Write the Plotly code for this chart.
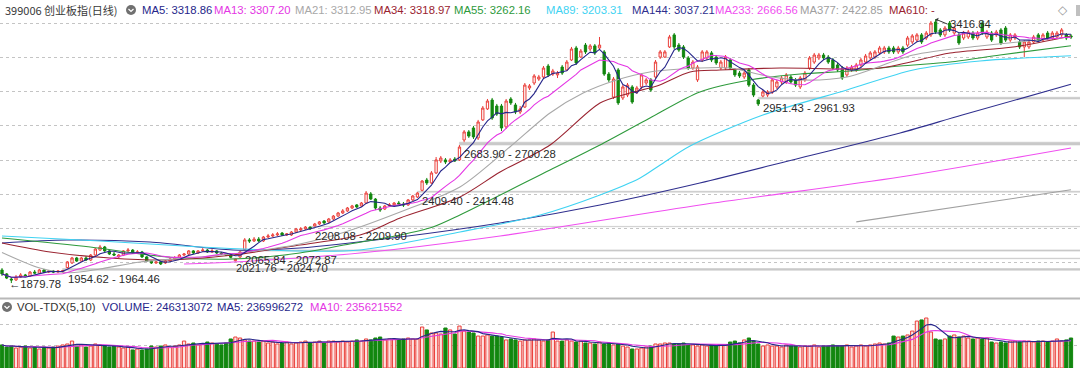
import plotly.graph_objects as go
import pandas as pd

W, H = 1080, 368

# ---------------- data ----------------
OPEN = [1956,1933,1903,1898,1915,1927,1921,1944,1938,1956,
        1944,1950,1944,1946,1970,1997,2026,2008,2026,2014,
        2043,2072,2090,2067,2049,2032,2043,2067,2072,2055,
        2061,2032,2008,1997,2003,1997,2008,2020,2026,2043,
        2049,2067,2055,2067,2072,2061,2067,2055,2049,2043,
        2010,2032,2075,2131,2125,2136,2125,2148,2154,2160,
        2171,2160,2160,2177,2189,2195,2206,2212,2224,2241,
        2236,2253,2270,2288,2300,2317,2335,2329,2346,2399,
        2369,2317,2311,2329,2335,2346,2340,2335,2364,2381,
        2420,2480,2463,2521,2591,2597,2585,2602,2597,2713,
        2760,2783,2725,2830,2894,2946,2911,2911,2789,2952,
        2917,2876,2905,3016,3045,3068,3080,3144,3097,3092,
        3138,3121,3179,3249,3196,3266,3243,3261,3249,3226,
        3097,2963,3121,2958,2975,3022,2993,3022,3045,3063,
        3080,3196,3196,3255,3325,3266,3255,3191,3132,3063,
        3179,3191,3220,3196,3132,3132,3179,3121,3103,3080,
        3121,3033,2946,2969,2975,2993,3022,3051,3051,3080,
        3063,3022,3063,3132,3167,3191,3208,3196,3179,3150,
        3132,3092,3121,3121,3150,3167,3191,3196,3220,3226,
        3249,3249,3226,3249,3266,3284,3295,3325,3307,3325,
        3400,3354,3325,3394,3336,3325,3307,3313,3336,3307,
        3394,3313,3336,3325,3354,3365,3295,3307,3284,3255,
        3255,3284,3325,3295,3336,3307,3313,3325,3325,3319]

CLOSE = [1933,1909,1898,1915,1927,1921,1944,1938,1956,1944,
         1950,1944,1950,1952,2003,2026,2008,2026,2014,2043,
         2078,2090,2067,2049,2043,2043,2067,2072,2055,2061,
         2032,2008,1997,2003,1991,2008,2020,2026,2043,2049,
         2067,2055,2067,2072,2061,2067,2055,2049,2043,2030,
         2019,2061,2131,2125,2136,2125,2148,2154,2160,2166,
         2160,2166,2177,2195,2195,2206,2195,2224,2236,2230,
         2253,2270,2288,2300,2317,2329,2323,2346,2404,2369,
         2317,2305,2329,2335,2346,2340,2335,2364,2387,2404,
         2474,2463,2521,2597,2608,2585,2597,2591,2672,2760,
         2736,2731,2818,2899,2940,2841,2864,2783,2940,2929,
         2876,2894,3033,3028,3086,3080,3132,3092,3115,3103,
         3103,3167,3243,3162,3231,3226,3261,3220,3266,3097,
         3063,3068,2929,3022,3033,2934,3016,3092,3063,3004,
         3167,3226,3226,3313,3255,3237,3196,3132,3167,3138,
         3226,3226,3179,3162,3167,3196,3132,3092,3086,3103,
         3033,2975,2923,2993,2993,3063,3051,3074,3092,3051,
         3033,3074,3103,3191,3208,3208,3191,3167,3132,3121,
         3074,3132,3138,3150,3179,3202,3220,3226,3249,3249,
         3226,3226,3249,3226,3307,3319,3325,3284,3336,3394,
         3342,3325,3365,3354,3365,3278,3336,3342,3307,3336,
         3336,3342,3295,3342,3278,3295,3325,3325,3255,3284,
         3284,3313,3295,3325,3307,3336,3336,3354,3307,3313]

HIGH = [1967,1938,1915,1927,1938,1933,1950,1956,1962,1962,
        1956,1956,1954,1954.6,2008,2032,2032,2032,2037,2049,
        2084,2102,2096,2072,2061,2049,2072,2084,2078,2072,
        2067,2037,2014,2014,2008,2014,2026,2037,2049,2055,
        2072,2072,2072,2084,2078,2078,2072,2061,2055,2049,
        2021.8,2065.8,2142,2142,2148,2148,2154,2166,2171,2177,
        2177,2171,2183,2201,2206,2212,2208.1,2230,2241,2247,
        2259,2276,2294,2311,2323,2335,2340,2352,2416,2410,
        2375,2329,2335,2346,2352,2358,2352,2369,2393,2409.4,
        2480,2492,2532,2614,2620,2608,2608,2614,2683.9,2771,
        2771,2795,2830,2911,2952,2958,2923,2923,2952,2963,
        2929,2911,3045,3039,3097,3092,3144,3156,3127,3115,
        3150,3179,3255,3261,3243,3278,3272,3272,3313,3237,
        3109,3080,3132,3033,3045,3033,3028,3103,3074,3074,
        3179,3237,3237,3325,3336,3278,3266,3202,3179,3150,
        3237,3237,3231,3208,3179,3208,3191,3132,3115,3115,
        3132,3045,2951.4,3004,3004,3074,3063,3086,3103,3092,
        3074,3086,3115,3202,3220,3220,3220,3208,3191,3162,
        3144,3144,3150,3162,3191,3214,3231,3237,3261,3261,
        3261,3261,3261,3261,3319,3330,3336,3336,3348,3406,
        3416.84,3365,3377,3406,3377,3336,3348,3354,3348,3348,
        3406,3354,3348,3354,3365,3377,3336,3336,3295,3295,
        3295,3325,3336,3336,3348,3348,3348,3365,3336,3330]

LOW = [1921,1903,1879.78,1892,1909,1915,1915,1933,1933,1938,
       1938,1938,1938,1940,1964.5,1991,2003,2003,2008,2008,
       2037,2067,2061,2043,2037,2026,2037,2061,2049,2049,
       2026,2003,1991,1991,1985,1991,2003,2014,2020,2037,
       2043,2049,2049,2061,2055,2055,2049,2043,2037,2024.7,
       2005,2026,2072.9,2113,2119,2119,2119,2142,2148,2154,
       2154,2154,2154,2171,2183,2189,2189,2209.9,2218,2224,
       2230,2247,2265,2282,2294,2311,2317,2323,2340,2364,
       2305,2294,2305,2323,2329,2335,2323,2329,2358,2375,
       2414.5,2451,2457,2515,2579,2573,2579,2585,2591,2700.3,
       2725,2719,2713,2824,2888,2830,2853,2765,2777,2917,
       2864,2864,2899,3004,3033,3057,3074,3080,3086,3074,
       3092,3115,3173,3150,3191,3214,3231,3208,3237,3086,
       3051,2952,2917,2946,2963,2923,2981,3010,3033,2993,
       3068,3185,3191,3249,3243,3226,3185,3121,3121,3051,
       3167,3179,3167,3150,3121,3121,3121,3080,3074,3068,
       3022,2963,2911,2961.9,2963,2981,3010,3039,3039,3039,
       3022,3010,3051,3121,3156,3179,3179,3156,3121,3109,
       3063,3080,3109,3109,3138,3156,3179,3185,3208,3214,
       3214,3214,3214,3214,3255,3272,3284,3272,3295,3313,
       3330,3313,3313,3342,3325,3266,3295,3301,3295,3295,
       3325,3301,3284,3313,3266,3284,3284,3295,3243,3196,
       3243,3272,3284,3284,3295,3295,3301,3313,3295,3301]

# volume, millions of shares
VOLUME = [189,172,180,164,172,180,164,172,156,172,
          164,172,180,189,197,221,180,189,172,180,
          197,189,180,172,180,172,164,172,148,156,
          148,156,180,172,180,189,172,180,189,221,
          197,205,189,197,213,205,197,189,205,238,
          254,246,230,221,221,213,221,205,213,197,
          205,213,197,205,213,221,205,213,221,205,
          221,221,213,221,213,221,230,221,238,230,
          246,254,230,238,238,230,238,246,238,238,
          336,312,287,287,279,328,312,279,344,303,
          295,287,262,262,271,262,262,254,230,238,
          230,221,230,230,238,230,221,230,295,221,
          221,230,221,213,221,205,205,197,213,197,
          205,189,197,180,172,156,156,164,172,180,
          197,197,205,205,197,197,205,189,189,180,
          189,180,189,180,189,189,213,221,205,230,
          246,221,197,180,189,180,180,172,189,180,
          180,172,180,180,189,172,180,180,189,180,
          180,189,172,180,189,180,189,197,205,197,
          205,262,254,262,271,303,385,394,410,295,
          238,230,238,262,271,254,262,246,238,246,
          238,246,213,205,213,205,221,221,213,221,
          221,213,221,221,213,221,238,221,230,246]

# long moving averages (bar index, value)
MA21_I = [0, 8.1, 14.6, 21, 29.6, 42.4, 51, 63.8, 73.5, 85.3, 98.1, 108.8, 117.4,
          124.5, 131.7, 138.8, 149.5, 156, 163.9, 171, 181, 195.2, 209.5, 229]
MA21_V = [2058, 1967.5, 1940, 1962, 2002.5, 2031.6, 2054.9, 2107.3, 2177.2, 2293.7,
          2439.3, 2672.2, 2870.3, 2986.7, 3062.5, 3109.1, 3132.4, 3132.4, 3085.8,
          3062.5, 3079.9, 3208.1, 3260.5, 3312.95]
MA34_I = [0, 10.3, 23.1, 35.3, 49.5, 63.8, 76.7, 85.3, 98.1, 106.7, 117.4, 128.1,
          134.5, 140.3, 147.4, 153.8, 166.7, 188.1, 203.1, 216.6, 229]
MA34_V = [2113.1, 2060.7, 2025.8, 2014.1, 2043.3, 2101.5, 2159.7, 2258.8, 2381.1,
          2526.6, 2683.9, 2928.5, 2986.7, 3027.5, 3109.1, 3120.7, 3132.4, 3132.4,
          3219.7, 3254.7, 3318.97]
MA55_I = [0, 18.9, 35.3, 49.5, 63.8, 74.5, 85.3, 92.3, 98.1, 117.4, 128.1, 138.8,
          149.5, 160.2, 171, 181.7, 192.4, 203.1, 213.8, 229]
MA55_V = [2142.3, 2089.8, 2031.6, 2020.0, 2054.9, 2107.3, 2159.7, 2206.3, 2276.2,
          2538.3, 2683.9, 2841.1, 2992.6, 3062.5, 3097.4, 3114.9, 3144.0, 3167.3,
          3208.1, 3262.16]
MA89_I = [0, 21, 42.4, 63.8, 76.7, 98.1, 115.3, 128.1, 136.7, 141, 147.4, 163, 181,
          195.2, 209.5, 229]
MA89_V = [2153.9, 2124.8, 2089.8, 2066.5, 2072.4, 2177.2, 2276.2, 2392.7, 2491.7,
          2567.4, 2678.1, 2858.6, 3004.2, 3120.7, 3173.1, 3203.31]
MA144_I = [0, 13.9, 31.7, 49.5, 63.8, 85.3, 106.7, 128.1, 149.5, 171, 192.4, 205.7, 229]
MA144_V = [2113.1, 2130.6, 2119.0, 2072.4, 2084.0, 2148.1, 2229.6, 2334.5, 2462.6,
           2608.2, 2753.8, 2858.6, 3037.21]
MA233_I = [39, 49.5, 76.7, 106.7, 149.5, 192.4, 229]
MA233_V = [1990.8, 2002.5, 2054.9, 2153.9, 2334.5, 2497.5, 2666.56]
MA377_I = [183, 229]
MA377_V = [2236, 2422.85]

# price gap zones: (low, high, bar index where the zone starts)
ZONE_LO = [1954.62, 2021.76, 2065.84, 2208.08, 2409.40, 2683.90, 2951.43]
ZONE_HI = [1964.46, 2024.70, 2072.87, 2209.90, 2414.48, 2700.28, 2961.93]
ZONE_START = [13, 49, 51, 66, 89, 98, 162]

LOW_MARK = (2, 1879.78)
HIGH_MARK = (200, 3416.84)

HEADER_TITLE = "399006 创业板指(日线)"
HEADER_ITEMS = [("MA5: 3318.86", 140), ("MA13: 3307.20", 212), ("MA21: 3312.95", 293),
                ("MA34: 3318.97", 372), ("MA55: 3262.16", 452), ("MA89: 3203.31", 544),
                ("MA144: 3037.21", 630), ("MA233: 2666.56", 713), ("MA377: 2422.85", 798),
                ("MA610: -", 887)]
VOL_ITEMS = [("VOL-TDX(5,10)", 15), ("VOLUME: 246313072", 100),
             ("MA5: 236996272", 215), ("MA10: 235621552", 308)]

# ---------------- styles ----------------
RED = "#ea3f3a"
GREEN = "#12870f"
C_MA5 = "#26268a"
C_MA13 = "#e436e4"
C_MA21 = "#a8a8a8"
C_MA34 = "#9a2330"
C_MA55 = "#2e9a3c"
C_MA89 = "#3fd3f2"
C_MA144 = "#2f2f8e"
C_MA233 = "#f04ff0"
C_MA377 = "#a0a0a0"
HEADER_COLORS = [C_MA5, C_MA13, C_MA21, C_MA34, C_MA55, C_MA89, C_MA144, C_MA233,
                 C_MA377, C_MA34]
VOL_COLORS = ["#333333", C_MA5, C_MA5, C_MA13]
FONT = "Liberation Sans, Arial, sans-serif"


def PX(x):
    return x / W


def PY(y):
    return 1 - y / H


n = len(CLOSE)
idx = list(range(n))
HIGH = [max(h, o, c) for h, o, c in zip(HIGH, OPEN, CLOSE)]
LOW = [min(l, o, c) for l, o, c in zip(LOW, OPEN, CLOSE)]

closes = pd.Series(CLOSE, dtype=float)
ma5 = closes.rolling(5, min_periods=1).mean()
ma13 = closes.rolling(13, min_periods=1).mean()
vols = pd.Series(VOLUME, dtype=float)
vma5 = vols.rolling(5, min_periods=1).mean()
vma10 = vols.rolling(10, min_periods=1).mean()

# pixel layout
DX = 4.668
X0 = 2.0
xrange = [(0 - X0) / DX, (W - X0) / DX]
P_TOP, P_BOT = 17, 297
slope = 5.824  # price per pixel


def price_at(ypx):
    return 2683.9 + (145 - ypx) * slope


yrange = [price_at(P_BOT), price_at(P_TOP)]
V_TOP, V_BOT = 300, 368
vrange = [0, (V_BOT - V_TOP) * 8.2]

fig = go.Figure()

fig.add_trace(go.Candlestick(
    x=idx, open=OPEN, high=HIGH, low=LOW, close=CLOSE,
    increasing=dict(line=dict(color=RED, width=1), fillcolor="white"),
    decreasing=dict(line=dict(color=GREEN, width=1), fillcolor=GREEN),
    whiskerwidth=0, hoverinfo="skip", showlegend=False, xaxis="x", yaxis="y"))


def add_line(xs, ys, color, width=1.1, spline=True):
    fig.add_trace(go.Scatter(
        x=xs, y=ys, mode="lines",
        line=dict(color=color, width=width, shape="spline" if spline else "linear",
                  smoothing=0.8),
        hoverinfo="skip", showlegend=False, xaxis="x", yaxis="y"))


add_line(MA377_I, MA377_V, C_MA377)
add_line(MA233_I, MA233_V, C_MA233)
add_line(MA144_I, MA144_V, C_MA144)
add_line(MA89_I, MA89_V, C_MA89)
add_line(MA55_I, MA55_V, C_MA55)
add_line(MA34_I, MA34_V, C_MA34)
add_line(MA21_I, MA21_V, C_MA21)
add_line(idx, ma13.tolist(), C_MA13, spline=False)
add_line(idx, ma5.tolist(), C_MA5, spline=False)

up = [c >= o for o, c in zip(OPEN, CLOSE)]
fig.add_trace(go.Bar(
    x=idx, y=VOLUME, width=0.7,
    marker=dict(color=["#fde3e1" if u else GREEN for u in up],
                line=dict(color=[RED if u else GREEN for u in up], width=1)),
    hoverinfo="skip", showlegend=False, xaxis="x2", yaxis="y2"))
fig.add_trace(go.Scatter(x=idx, y=vma10.tolist(), mode="lines",
                         line=dict(color=C_MA13, width=1.1), hoverinfo="skip",
                         showlegend=False, xaxis="x2", yaxis="y2"))
fig.add_trace(go.Scatter(x=idx, y=vma5.tolist(), mode="lines",
                         line=dict(color=C_MA5, width=1.1), hoverinfo="skip",
                         showlegend=False, xaxis="x2", yaxis="y2"))

shapes = []
annotations = []

# gap zones
for lo, hi, st in zip(ZONE_LO, ZONE_HI, ZONE_START):
    shapes.append(dict(type="rect", xref="x", yref="y", x0=st, x1=xrange[1] + 1,
                       y0=lo, y1=hi, fillcolor="#c9c9c9",
                       line=dict(color="#c9c9c9", width=0.6), layer="below"))
    annotations.append(dict(xref="x", yref="y", x=st, y=lo, xanchor="left",
                            yanchor="middle", xshift=3, yshift=-9, showarrow=False,
                            text=f"{lo:.2f} - {hi:.2f}",
                            font=dict(family=FONT, size=11.3, color="#2a2a2a")))

annotations.append(dict(xref="x", yref="y", x=LOW_MARK[0], y=LOW_MARK[1],
                        xanchor="left", yanchor="middle", xshift=-4, yshift=-1,
                        showarrow=False, text=f"←{LOW_MARK[1]:.2f}",
                        font=dict(family=FONT, size=11.3, color="#2a2a2a")))
annotations.append(dict(xref="x", yref="y", x=HIGH_MARK[0], y=HIGH_MARK[1],
                        xanchor="left", yanchor="middle", ax=12, ay=5,
                        showarrow=True, arrowhead=1, arrowsize=0.8, arrowwidth=1,
                        arrowcolor="#333333", standoff=0,
                        text=f"{HIGH_MARK[1]:.2f}",
                        font=dict(family=FONT, size=11.3, color="#2a2a2a")))

# header
annotations.append(dict(xref="paper", yref="paper", x=PX(3), y=PY(10),
                        xanchor="left", yanchor="middle", showarrow=False,
                        text=HEADER_TITLE,
                        font=dict(family="Noto Sans CJK SC, " + FONT, size=11,
                                  color="#3a3a3a")))
for (t, xp), col in zip(HEADER_ITEMS, HEADER_COLORS):
    annotations.append(dict(xref="paper", yref="paper", x=PX(xp), y=PY(10),
                            xanchor="left", yanchor="middle", showarrow=False,
                            text=t, font=dict(family=FONT, size=11.3, color=col)))
for (t, xp), col in zip(VOL_ITEMS, VOL_COLORS):
    annotations.append(dict(xref="paper", yref="paper", x=PX(xp), y=PY(307),
                            xanchor="left", yanchor="middle", showarrow=False,
                            text=t, font=dict(family=FONT, size=11.3, color=col)))
annotations.append(dict(xref="paper", yref="paper", x=PX(1063), y=PY(10),
                        xanchor="center", yanchor="middle", showarrow=False,
                        text="◇", font=dict(family="DejaVu Sans", size=12,
                                            color="#9a9a9a")))

# icons
for cx, cy in [(131, 10), (7, 307)]:
    shapes.append(dict(type="circle", xref="paper", yref="paper",
                       x0=PX(cx - 5), x1=PX(cx + 5), y0=PY(cy + 5), y1=PY(cy - 5),
                       fillcolor="#707070", line=dict(width=0)))
    shapes.append(dict(type="path", xref="paper", yref="paper",
                       path=f"M {PX(cx-2.5)} {PY(cy-1)} L {PX(cx)} {PY(cy+1.5)} L {PX(cx+2.5)} {PY(cy-1)}",
                       line=dict(color="white", width=1.2)))
shapes.append(dict(type="rect", xref="paper", yref="paper", x0=PX(1076), x1=PX(1080),
                   y0=PY(16), y1=PY(5), fillcolor="#c0c0c0", line=dict(width=0)))

# pane separator
shapes.append(dict(type="line", xref="paper", yref="paper", x0=0, x1=1,
                   y0=PY(298.5), y1=PY(298.5), line=dict(color="#b8b8b8", width=2)))

grid_vals = [2000.7 + 198.5 * k for k in range(8)]
vgrid_vals = [(V_BOT - 345) * 8.2, (V_BOT - 324.3) * 8.2]

fig.update_layout(
    width=W, height=H, margin=dict(l=0, r=0, t=0, b=0),
    paper_bgcolor="white", plot_bgcolor="white",
    showlegend=False, hovermode=False,
    xaxis=dict(domain=[0, 1], range=xrange, visible=False,
               rangeslider=dict(visible=False), fixedrange=True),
    yaxis=dict(domain=[PY(P_BOT), PY(P_TOP)], range=yrange, tickvals=grid_vals,
               showticklabels=False, showgrid=True, gridcolor="#c4c4c4",
               griddash="dot", gridwidth=1, zeroline=False, showline=False,
               ticks=""),
    xaxis2=dict(domain=[0, 1], range=xrange, visible=False, anchor="y2"),
    yaxis2=dict(domain=[PY(V_BOT), PY(V_TOP)], range=vrange, tickvals=vgrid_vals,
                showticklabels=False, showgrid=True, gridcolor="#c4c4c4",
                griddash="dot", gridwidth=1, zeroline=False, showline=False,
                ticks="", anchor="x2"),
    bargap=0.3,
    shapes=shapes, annotations=annotations,
)

fig.write_html("out.html", config={"displayModeBar": False},
               post_script="document.body.style.margin='0';document.body.style.overflow='hidden';")
